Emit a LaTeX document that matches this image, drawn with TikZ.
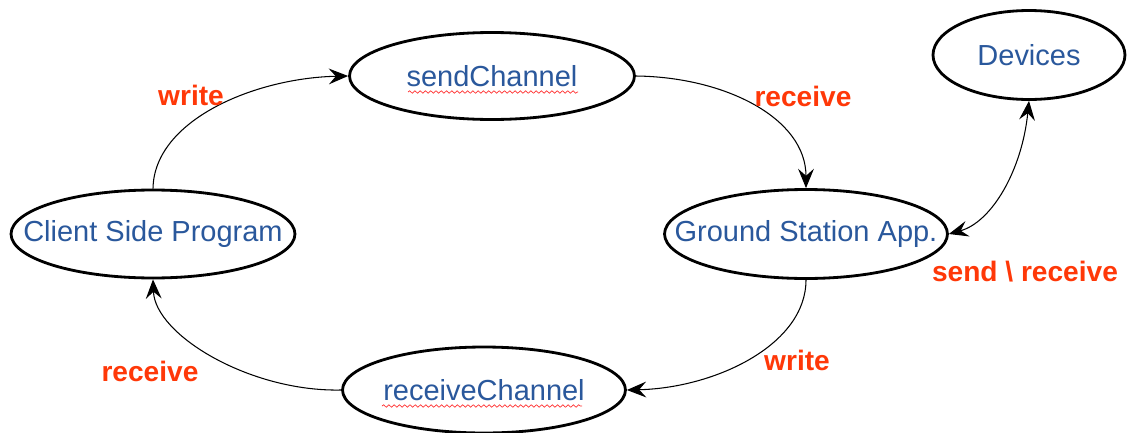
\documentclass[tikz,border=0pt]{standalone}
\usepackage{fontspec}
\setmainfont{Liberation Sans}
\usetikzlibrary{shapes.geometric,arrows.meta,decorations.pathmorphing}
\definecolor{nodetext}{RGB}{42,88,156}
\definecolor{flowred}{RGB}{255,56,8}
\tikzset{
  state/.style={ellipse, draw=black, line width=1.6pt, fill=white, inner sep=0pt,
    minimum width=#1},
  state/.default=5.7cm,
  nodelabel/.style={text=nodetext, font=\fontsize{16.5}{18}\selectfont},
  flowlabel/.style={text=flowred, font=\fontsize{16}{18}\selectfont\bfseries},
  tip/.style={Stealth[length=11pt,width=9pt,inset=4pt]},
  flow/.style={line width=0.6pt, -{Stealth[length=11pt,width=9pt,inset=4pt]}},
  flowboth/.style={line width=0.6pt, {Stealth[length=11pt,width=9pt,inset=4pt]}-{Stealth[length=11pt,width=9pt,inset=4pt]}},
  spell/.style={draw=red!80, line width=0.4pt, decorate,
    decoration={snake, amplitude=0.7pt, segment length=3pt}}
}
\begin{document}
\begin{tikzpicture}[x=0.02cm, y=-0.02cm]
  \useasboundingbox (0,0) rectangle (1127,433);

  % states
  \node[state, minimum height=1.74cm, label={[nodelabel]center:sendChannel}] (sc) at (492,76) {};
  \node[state=5.68cm, minimum height=1.76cm, label={[nodelabel]center:Client Side Program}] (cs) at (153,234) {};
  \node[state=5.66cm, minimum height=1.78cm, label={[nodelabel]center:Ground Station App.}] (gs) at (806,234) {};
  \node[state=5.66cm, minimum height=1.72cm, label={[nodelabel]center:receiveChannel}] (rc) at (484,390) {};
  \node[state=3.84cm, minimum height=1.78cm, label={[nodelabel]center:Devices}] (dv) at (1029,55) {};

  % spell-check underlines
  \draw[spell] (408,92) -- (578,92);
  \draw[spell] (382,406) -- (582,406);

  % connectors
  \draw[flow] (cs.north) .. controls (154,120) and (255,78) .. (sc.west);
  \draw[flow] (sc.east) .. controls (725,77) and (806,118) .. (gs.north);
  \draw[flow] (gs.south) .. controls (806,345) and (715,388) .. (rc.east);
  \draw[flow] (rc.west) .. controls (250,392) and (155,335) .. (cs.south);
  \draw[flowboth] (dv.south) .. controls (1022,170) and (992,222) .. (gs.east);

  % labels
  \node[flowlabel] (lw1) at (191,95) {write};
  \node[flowlabel] (lr1) at (803,96) {receive};
  \node[flowlabel] (lsr) at (1025,272) {send \textbackslash\ receive};
  \node[flowlabel] (lw2) at (797,360) {write};
  \node[flowlabel] (lr2) at (150,371) {receive};
\end{tikzpicture}
\end{document}
